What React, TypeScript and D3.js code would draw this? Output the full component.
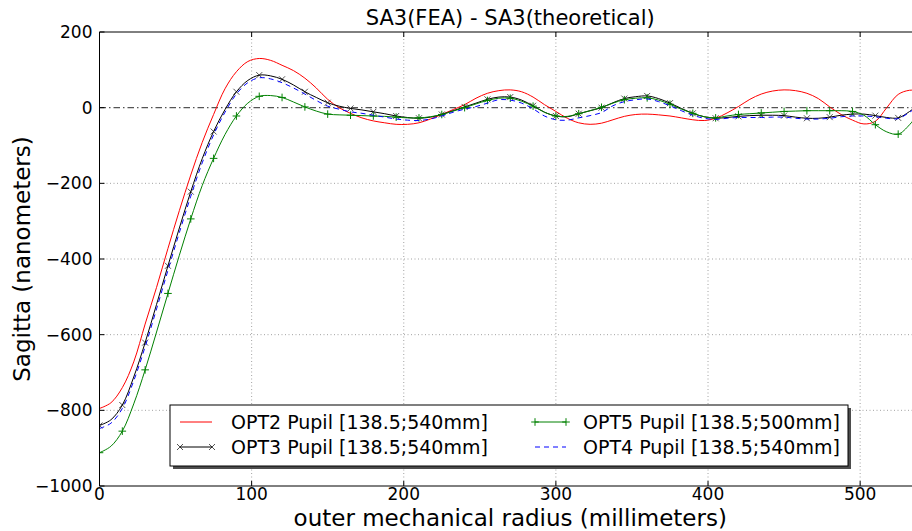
import React from 'react';
import * as d3 from 'd3';

const radius = [0, 7.5, 15, 22.5, 30, 37.5, 45, 52.5, 60, 67.5, 75, 82.5, 90, 97.5, 105, 112.5, 120, 127.5, 135, 142.5, 150, 157.5, 165, 172.5, 180, 187.5, 195, 202.5, 210, 217.5, 225, 232.5, 240, 247.5, 255, 262.5, 270, 277.5, 285, 292.5, 300, 307.5, 315, 322.5, 330, 337.5, 345, 352.5, 360, 367.5, 375, 382.5, 390, 397.5, 405, 412.5, 420, 427.5, 435, 442.5, 450, 457.5, 465, 472.5, 480, 487.5, 495, 502.5, 510, 517.5, 525, 532.5, 540];

const opt2 = [-795, -780, -740, -672, -572, -475, -372, -272, -178, -92, -18, 50, 95, 122, 130, 125, 112, 98, 78, 52, 22, 0, -15, -27, -35, -40, -44, -44, -40, -30, -18, -5, 8, 25, 38, 45, 47, 42, 28, 8, -10, -28, -40, -44, -41, -32, -23, -18, -17, -19, -22, -27, -32, -34, -28, -14, 3, 22, 36, 44, 47, 45, 38, 24, 2, -18, -33, -43, -36, 0, 35, 46, 44];

const opt3 = [-840, -825, -786, -712, -621, -520, -418, -318, -222, -135, -63, -5, 42, 72, 86, 84, 75, 60, 42, 27, 13, 4, -2, -6, -11, -16, -22, -26, -28, -25, -18, -8, 2, 12, 22, 28, 28, 20, 5, -12, -22, -24, -16, -8, 0, 13, 24, 29, 31, 24, 12, -2, -15, -24, -28, -26, -23, -21, -20, -20, -21, -25, -28, -28, -25, -20, -17, -17, -21, -26, -27, -10, 15];

const opt5 = [-912, -895, -855, -783, -693, -593, -491, -390, -294, -206, -134, -71, -22, 12, 30, 32, 27, 15, 2, -9, -17, -19, -20, -21, -22, -23, -25, -27, -27, -24, -18, -9, 0, 10, 19, 25, 25, 17, 4, -12, -22, -23, -16, -8, 1, 12, 21, 25, 26, 20, 9, -4, -15, -24, -27, -22, -18, -16, -14, -12, -10, -9, -8, -8, -8, -8, -10, -20, -45, -64, -70, -45, -5];

const opt4 = [-848, -834, -795, -722, -632, -532, -430, -330, -234, -146, -72, -12, 36, 66, 79, 76, 66, 52, 36, 19, 4, -4, -11, -15, -20, -25, -30, -33, -34, -30, -22, -12, -4, 3, 12, 21, 20, 12, -3, -22, -32, -33, -27, -21, -13, 5, 16, 21, 23, 16, 5, -8, -20, -28, -31, -28, -26, -26, -26, -25, -25, -28, -30, -30, -28, -24, -22, -22, -24, -28, -29, -12, 10];

const xTicks = [0, 100, 200, 300, 400, 500];
const yTicks = [-1000, -800, -600, -400, -200, 0, 200];
const xDomain = [0, 540];
const yDomain = [-1000, 200];

const titleText = 'SA3(FEA) - SA3(theoretical)';
const xLabelText = 'outer mechanical radius (millimeters)';
const yLabelText = 'Sagitta (nanometers)';
const legendLabels = [
  'OPT2 Pupil [138.5;540mm]',
  'OPT3 Pupil [138.5;540mm]',
  'OPT5 Pupil [138.5;500mm]',
  'OPT4 Pupil [138.5;540mm]',
];

const FONT = "'DejaVu Sans', sans-serif";

type Series = { values: number[]; color: string; dash?: string; marker?: 'x' | '+'; label: string };

const series: Series[] = [
  { values: opt2, color: '#ff0000', label: legendLabels[0] },
  { values: opt3, color: '#000000', marker: 'x', label: legendLabels[1] },
  { values: opt5, color: '#008000', marker: '+', label: legendLabels[2] },
  { values: opt4, color: '#0000ff', dash: '5,4', label: legendLabels[3] },
];

function fmt(v: number) {
  return v < 0 ? '\u2212' + Math.abs(v) : String(v);
}

function Marker({ kind, cx, cy, color }: { kind: 'x' | '+'; cx: number; cy: number; color: string }) {
  const s = kind === 'x' ? 3 : 3.8;
  if (kind === 'x') {
    return (
      <g stroke={color} strokeWidth={0.9} opacity={0.75}>
        <line x1={cx - s} y1={cy - s} x2={cx + s} y2={cy + s} />
        <line x1={cx - s} y1={cy + s} x2={cx + s} y2={cy - s} />
      </g>
    );
  }
  return (
    <g stroke={color} strokeWidth={1}>
      <line x1={cx - s} y1={cy} x2={cx + s} y2={cy} />
      <line x1={cx} y1={cy - s} x2={cx} y2={cy + s} />
    </g>
  );
}

export default function App() {
  const W = 912;
  const H = 531;
  const left = 99.5;
  const right = 921;
  const top = 32;
  const bottom = 486;

  const x = d3.scaleLinear().domain(xDomain).range([left, right]);
  const y = d3.scaleLinear().domain(yDomain).range([bottom, top]);

  const line = d3
    .line<number>()
    .x((_, i) => x(radius[i]))
    .y((d) => y(d))
    .curve(d3.curveCatmullRom.alpha(0.5));

  const legendBox = { x: 170, y: 405, w: 678, h: 61 };
  const rows = [422, 447];
  const cols = [
    { h0: 180, h1: 212, t: 231 },
    { h0: 535, h1: 566, t: 583 },
  ];

  return (
    <svg
      width={W}
      height={H}
      style={{ position: 'absolute', left: 0, top: 0, display: 'block', background: '#fff' }}
      fontFamily={FONT}
    >
      <defs>
        <clipPath id="plotClip">
          <rect x={left} y={top} width={right - left} height={bottom - top} />
        </clipPath>
      </defs>
      <rect x={0} y={0} width={W} height={H} fill="#fff" />

      {/* grid */}
      <g stroke="#8a8a8a" strokeWidth={0.8} strokeDasharray="1,2.5">
        {xTicks.filter((t) => t !== 0).map((t) => (
          <line key={'gx' + t} x1={x(t)} x2={x(t)} y1={top} y2={bottom} />
        ))}
        {yTicks.filter((t) => t !== -1000 && t !== 200 && t !== 0).map((t) => (
          <line key={'gy' + t} x1={left} x2={right} y1={y(t)} y2={y(t)} />
        ))}
      </g>

      {/* zero reference */}
      <line x1={left} x2={right} y1={y(0)} y2={y(0)} stroke="#555" strokeWidth={1.2} strokeDasharray="6.5,3,1.5,3" />

      {/* series */}
      <g clipPath="url(#plotClip)">
        {series.map((s, si) => (
          <g key={'s' + si}>
            <path d={line(s.values) || ''} fill="none" stroke={s.color} strokeWidth={1} strokeDasharray={s.dash} />
            {s.marker &&
              s.values.map((v, i) =>
                i % 2 === 0 ? <Marker key={i} kind={s.marker!} cx={x(radius[i])} cy={y(v)} color={s.color} /> : null
              )}
          </g>
        ))}
      </g>

      {/* axes spines */}
      <g stroke="#000" strokeWidth={1} fill="none">
        <line x1={left} x2={left} y1={top} y2={bottom} />
        <line x1={left} x2={right} y1={bottom} y2={bottom} />
        <line x1={left} x2={right} y1={top} y2={top} />
        <line x1={right} x2={right} y1={top} y2={bottom} />
      </g>

      {/* ticks */}
      <g stroke="#000" strokeWidth={1}>
        {xTicks.map((t) => (
          <g key={'tx' + t}>
            <line x1={x(t)} x2={x(t)} y1={bottom} y2={bottom - 5} />
            <line x1={x(t)} x2={x(t)} y1={top} y2={top + 5} />
          </g>
        ))}
        {yTicks.map((t) => (
          <line key={'ty' + t} x1={left} x2={left + 5} y1={y(t)} y2={y(t)} />
        ))}
      </g>

      {/* tick labels */}
      <g fontSize={17} fill="#000">
        {xTicks.map((t) => (
          <text key={'lx' + t} x={x(t)} y={bottom + 14} textAnchor="middle">
            {fmt(t)}
          </text>
        ))}
        {yTicks.map((t) => (
          <text key={'ly' + t} x={left - 7} y={y(t) + 6} textAnchor="end">
            {fmt(t)}
          </text>
        ))}
      </g>

      {/* title & labels */}
      <text x={(left + right) / 2} y={24.5} textAnchor="middle" fontSize={21}>
        {titleText}
      </text>
      <text x={(left + right) / 2} y={526} textAnchor="middle" fontSize={23}>
        {xLabelText}
      </text>
      <text transform={`translate(30,${(top + bottom) / 2}) rotate(-90)`} textAnchor="middle" fontSize={23}>
        {yLabelText}
      </text>

      {/* legend */}
      <rect x={legendBox.x + 3} y={legendBox.y + 3} width={legendBox.w} height={legendBox.h} fill="#4d4d4d" />
      <rect x={legendBox.x} y={legendBox.y} width={legendBox.w} height={legendBox.h} fill="#fff" stroke="#000" strokeWidth={1} />
      {series.map((s, si) => {
        const col = cols[Math.floor(si / 2)];
        const ry = rows[si % 2];
        return (
          <g key={'lg' + si}>
            <line x1={col.h0} x2={col.h1} y1={ry} y2={ry} stroke={s.color} strokeWidth={1} strokeDasharray={s.dash} />
            {s.marker && <Marker kind={s.marker} cx={col.h0} cy={ry} color={s.color} />}
            {s.marker && <Marker kind={s.marker} cx={col.h1} cy={ry} color={s.color} />}
            <text x={col.t} y={ry + 7} fontSize={19}>
              {s.label}
            </text>
          </g>
        );
      })}
    </svg>
  );
}
